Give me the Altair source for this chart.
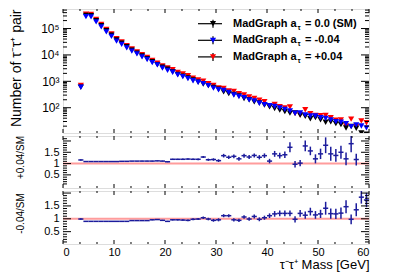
import altair as alt
import pandas as pd

# ---------------- data ----------------
mass = [3.5, 4.5, 5.5, 6.5, 7.5, 8.5, 9.5, 10.5, 11.5, 12.5,
        13.5, 14.5, 15.5, 16.5, 17.5, 18.5, 19.5, 20.5, 21.5, 22.5,
        23.5, 24.5, 25.5, 26.5, 27.5, 28.5, 29.5, 30.5, 31.5, 32.5,
        33.5, 34.5, 35.5, 36.5, 37.5, 38.5, 39.5, 40.5, 41.5, 42.5,
        43.5, 44.5, 45.5, 46.5, 47.5, 48.5, 49.5, 50.5, 51.5, 52.5,
        53.5, 54.5, 55.5, 56.5, 57.5, 58.5, 59.5]

sm = [600, 316000, 309000, 200000, 129000, 83000, 56000, 37000, 28000, 20400,
      15100, 11700, 9100, 7200, 5500, 4300, 3400, 2900, 2300, 1820,
      1580, 1350, 1120, 930, 790, 690, 590, 500, 400, 340,
      316, 282, 224, 200, 166, 151, 126, 107, 93, 81,
      71, 62, 63, 52, 47, 38, 42, 35, 28, 29,
      25, 23, 17, 19.5, 16.6, 11, 10]

plus = [702, 351000, 343000, 222000, 143000, 92100, 62200, 41100, 31100, 22600,
        16900, 13100, 10200, 8060, 6160, 4900, 3840, 3190, 2760, 2170,
        1900, 1620, 1330, 1120, 1020, 807, 696, 565, 540, 435,
        417, 341, 302, 258, 226, 193, 170, 119, 133, 109,
        98.7, 107, 61, 53, 83.7, 59.3, 50.8, 50, 50.7, 41.5,
        34, 34.5, 20.6, 36.7, 19.6, 31.9, 27]

minus = [594, 284000, 278000, 180000, 116000, 74700, 50400, 33300, 25200, 18400,
         14000, 10900, 8460, 6700, 5120, 4170, 3160, 2610, 2210, 1750,
         1500, 1270, 1050, 921, 822, 683, 555, 480, 448, 381,
         303, 265, 240, 198, 181, 148, 131, 120, 111, 98,
         85.9, 75, 61.7, 63, 53.6, 48.6, 48.3, 41.7, 39.5, 34.8,
         29.8, 28.1, 25, 19.1, 22.4, 20.2, 17.3]

ratio_plus = [1.16, 1.09, 1.09, 1.09, 1.09, 1.09, 1.09, 1.09, 1.10, 1.10,
              1.11, 1.11, 1.11, 1.11, 1.11, 1.12, 1.11, 1.08, 1.19, 1.19,
              1.19, 1.2, 1.19, 1.19, 1.29, 1.17, 1.18, 1.13, 1.35, 1.28,
              1.32, 1.21, 1.35, 1.29, 1.36, 1.28, 1.35, 1.11, 1.43, 1.35,
              1.39, 1.72, 0.97, 1.02, 1.78, 1.56, 1.21, 1.43, 1.81, 1.43,
              1.36, 1.5, 1.21, 1.88, 1.18, 2.9, 2.7]
err_plus = [0.03, 0.005, 0.005, 0.005, 0.005, 0.005, 0.005, 0.005, 0.006, 0.007,
            0.008, 0.009, 0.01, 0.012, 0.014, 0.016, 0.018, 0.02, 0.025, 0.028,
            0.03, 0.033, 0.036, 0.04, 0.045, 0.05, 0.055, 0.06, 0.08, 0.08,
            0.08, 0.085, 0.09, 0.09, 0.09, 0.095, 0.1, 0.1, 0.13, 0.13,
            0.14, 0.22, 0.14, 0.14, 0.24, 0.19, 0.2, 0.23, 0.35, 0.31,
            0.28, 0.29, 0.28, 0.38, 0.26, 0.4, 0.4]

ratio_minus = [0.99, 0.90, 0.90, 0.90, 0.90, 0.90, 0.90, 0.90, 0.90, 0.90,
               0.93, 0.93, 0.93, 0.93, 0.96, 0.97, 0.94, 0.90, 0.96, 0.96,
               0.95, 0.94, 0.98, 0.99, 1.04, 0.99, 0.94, 0.96, 1.12, 1.12,
               0.96, 0.94, 1.07, 0.99, 1.09, 0.98, 1.04, 1.12, 1.19, 1.21,
               1.21, 1.21, 0.98, 1.21, 1.14, 1.28, 1.15, 1.19, 1.41, 1.2,
               1.19, 1.22, 1.47, 0.98, 1.35, 1.84, 1.73]
err_minus = [0.03, 0.005, 0.005, 0.005, 0.005, 0.005, 0.005, 0.005, 0.006, 0.007,
             0.008, 0.009, 0.01, 0.012, 0.014, 0.016, 0.018, 0.02, 0.025, 0.028,
             0.03, 0.033, 0.036, 0.04, 0.045, 0.05, 0.055, 0.06, 0.06, 0.06,
             0.065, 0.065, 0.07, 0.07, 0.075, 0.075, 0.08, 0.09, 0.11, 0.11,
             0.11, 0.11, 0.12, 0.13, 0.14, 0.15, 0.15, 0.16, 0.25, 0.2,
             0.2, 0.22, 0.25, 0.19, 0.25, 0.25, 0.28]

legend_rest = ["= 0.0 (SM)", "= -0.04", "= +0.04"]
legend_colors = ["#000000", "#0000ff", "#ff0000"]

x_major = [0, 10, 20, 30, 40, 50, 60]
x_minor = [3.333, 6.667, 13.333, 16.667, 23.333, 26.667, 33.333, 36.667,
           43.333, 46.667, 53.333, 56.667]
y_log_major = [100, 1000, 10000, 100000]
y_log_minor = [20, 30, 40, 50, 60, 70, 80, 90,
               200, 300, 400, 500, 600, 700, 800, 900,
               2000, 3000, 4000, 5000, 6000, 7000, 8000, 9000,
               20000, 30000, 40000, 50000, 60000, 70000, 80000, 90000,
               200000, 300000, 400000, 500000]
r_major = [0.5, 1.0, 1.5, 2.0]
r_minor = [0.1, 0.2, 0.3, 0.4, 0.6, 0.7, 0.8, 0.9, 1.1, 1.2, 1.3, 1.4,
           1.6, 1.7, 1.8, 1.9, 2.1]

# ---------------- layout ----------------
W = 306
H1, H2, H3 = 124, 52, 53
FONT = "Liberation Sans"
RCOL = "#1c1c9c"

xsc = alt.Scale(domain=[0, 60], nice=False, zero=False)
ysc1 = alt.Scale(type="log", domain=[11, 550000], nice=False)
ysc2 = alt.Scale(domain=[-0.08, 2.22], nice=False, zero=False)
ysc3 = alt.Scale(domain=[0.02, 2.08], nice=False, zero=False)


def tick_layers(ysc, H, xaxis, yaxis, xvals_major, xvals_minor,
                yvals_major, yvals_minor, xlen=(4, 2), ylen=(8, 4)):
    layers = []
    for vals, ln in ((xvals_major, xlen[0]), (xvals_minor, xlen[1])):
        df = pd.DataFrame({"v": vals})
        b = alt.Chart(df).mark_rule(color="black", strokeWidth=1)
        layers.append(b.encode(x=alt.X("v:Q", scale=xsc, axis=xaxis),
                               y=alt.value(0), y2=alt.value(ln)))
        layers.append(b.encode(x=alt.X("v:Q", scale=xsc, axis=xaxis),
                               y=alt.value(H), y2=alt.value(H - ln)))
    for vals, ln in ((yvals_major, ylen[0]), (yvals_minor, ylen[1])):
        df = pd.DataFrame({"v": vals})
        b = alt.Chart(df).mark_rule(color="black", strokeWidth=1, clip=True)
        layers.append(b.encode(y=alt.Y("v:Q", scale=ysc, axis=yaxis),
                               x=alt.value(0), x2=alt.value(ln)))
        layers.append(b.encode(y=alt.Y("v:Q", scale=ysc, axis=yaxis),
                               x=alt.value(W), x2=alt.value(W - ln)))
    return layers


# ---------------- top panel ----------------
top_df = pd.DataFrame({"m": mass, "sm": sm, "plus": plus, "minus": minus})

pt = dict(shape="triangle-down", filled=True, size=38, opacity=1, clip=True)

yaxis_top = alt.Axis(
    values=y_log_major,
    labelExpr="datum.value == 100 ? '10²' : datum.value == 1000 ? '10³' : datum.value == 10000 ? '10⁴' : '10⁵'",
    ticks=False, domain=False, grid=False,
    labelFont=FONT, labelFontSize=12, labelColor="black", labelPadding=4,
    title="Number of τ⁻τ⁺ pair", titleFont=FONT, titleFontSize=14,
    titleFontWeight="normal", titleColor="black",
    titleAngle=-90, titleX=-40, titleY=0, titleAlign="right",
)

red_pts = alt.Chart(top_df).mark_point(color="#ff0000", **pt).encode(
    x=alt.X("m:Q", scale=xsc, axis=None),
    y=alt.Y("plus:Q", scale=ysc1, axis=yaxis_top))
blk_pts = alt.Chart(top_df).mark_point(color="#000000", **pt).encode(
    x=alt.X("m:Q", scale=xsc, axis=None),
    y=alt.Y("sm:Q", scale=ysc1, axis=yaxis_top))
blu_pts = alt.Chart(top_df).mark_point(color="#0000ff", **pt).encode(
    x=alt.X("m:Q", scale=xsc, axis=None),
    y=alt.Y("minus:Q", scale=ysc1, axis=yaxis_top))

# legend (drawn by hand so that the subscript tau can be shown)
legend_layers = []
for i, (rest, col) in enumerate(zip(legend_rest, legend_colors)):
    ly = 14.7 + 16.6 * i
    d = pd.DataFrame({"rest": [rest]})
    base = alt.Chart(d)
    legend_layers += [
        base.mark_rule(color="black", strokeWidth=1.2).encode(
            x=alt.value(135), x2=alt.value(159), y=alt.value(ly)),
        base.mark_rule(color="black", strokeWidth=1.2).encode(
            x=alt.value(150), y=alt.value(ly - 4), y2=alt.value(ly + 4)),
        base.mark_point(shape="triangle-down", filled=True, size=38,
                        opacity=1, color=col).encode(
            x=alt.value(150), y=alt.value(ly)),
        base.mark_text(align="left", baseline="middle", font=FONT, fontSize=11,
                       fontWeight="bold", color="black").encode(
            x=alt.value(170), y=alt.value(ly), text=alt.value("MadGraph a")),
        base.mark_text(align="left", baseline="middle", font=FONT, fontSize=7,
                       fontWeight="bold", color="black").encode(
            x=alt.value(234.5), y=alt.value(ly + 4), text=alt.value("τ")),
        base.mark_text(align="left", baseline="middle", font=FONT, fontSize=11,
                       fontWeight="bold", color="black").encode(
            x=alt.value(242), y=alt.value(ly), text="rest:N"),
    ]

top = alt.layer(
    red_pts, blk_pts, blu_pts,
    *tick_layers(ysc1, H1, None, yaxis_top, x_major, x_minor,
                 y_log_major, y_log_minor),
    *legend_layers,
).properties(width=W, height=H1)


# ---------------- ratio panels ----------------
def ratio_panel(rvals, errs, ysc, H, title, show_x, title_y):
    df = pd.DataFrame({"m": mass, "r": rvals, "e": errs})
    df["lo"] = df["m"] - 0.5
    df["hi"] = df["m"] + 0.5
    df["rlo"] = df["r"] - df["e"]
    df["rhi"] = df["r"] + df["e"]
    one = pd.DataFrame({"one": [1.0]})

    if show_x:
        xaxis = alt.Axis(values=x_major, format="d", ticks=False, domain=False,
                         grid=False, labelFont=FONT, labelFontSize=11,
                         labelColor="black", labelPadding=2,
                         title="τ⁻τ⁺ Mass [GeV]", titleFont=FONT,
                         titleFontSize=13, titleFontWeight="normal",
                         titleColor="black", titleAnchor="end", titlePadding=1)
    else:
        xaxis = None

    yaxis = alt.Axis(values=[0.5, 1, 1.5],
                     labelExpr="datum.value == 1 ? '1' : datum.value < 1 ? '0.5' : '1.5'",
                     ticks=False, domain=False, grid=False, labelFont=FONT,
                     labelFontSize=11, labelColor="black", labelPadding=4,
                     title=title, titleFont=FONT, titleFontSize=10,
                     titleFontWeight="normal", titleColor="black",
                     titleAngle=-90, titleX=-38, titleY=title_y,
                     titleAlign="center")

    ref = alt.Chart(one).mark_rule(color="#ff9c9c", strokeWidth=2).encode(
        y=alt.Y("one:Q", scale=ysc, axis=yaxis))
    hbar = alt.Chart(df).mark_rule(color=RCOL, strokeWidth=1.5, clip=True).encode(
        x=alt.X("lo:Q", scale=xsc, axis=xaxis), x2="hi:Q",
        y=alt.Y("r:Q", scale=ysc, axis=yaxis))
    vbar = alt.Chart(df).mark_rule(color=RCOL, strokeWidth=1.5, clip=True).encode(
        x=alt.X("m:Q", scale=xsc, axis=xaxis),
        y=alt.Y("rlo:Q", scale=ysc, axis=yaxis), y2="rhi:Q")
    return alt.layer(
        ref, hbar, vbar,
        *tick_layers(ysc, H, xaxis, yaxis, x_major, x_minor, r_major, r_minor,
                     xlen=(4, 2), ylen=(8, 4)),
    ).properties(width=W, height=H)


mid = ratio_panel(ratio_plus, err_plus, ysc2, H2, "+0.04/SM", False, 21)
bot = ratio_panel(ratio_minus, err_minus, ysc3, H3, "-0.04/SM", True, 22)

chart = alt.vconcat(top, mid, bot, spacing=3, bounds="flush").configure_view(
    stroke="black", strokeWidth=1
).configure(background="white", padding=0)

chart.save("out.html", embed_options={"renderer": "svg", "actions": False})
